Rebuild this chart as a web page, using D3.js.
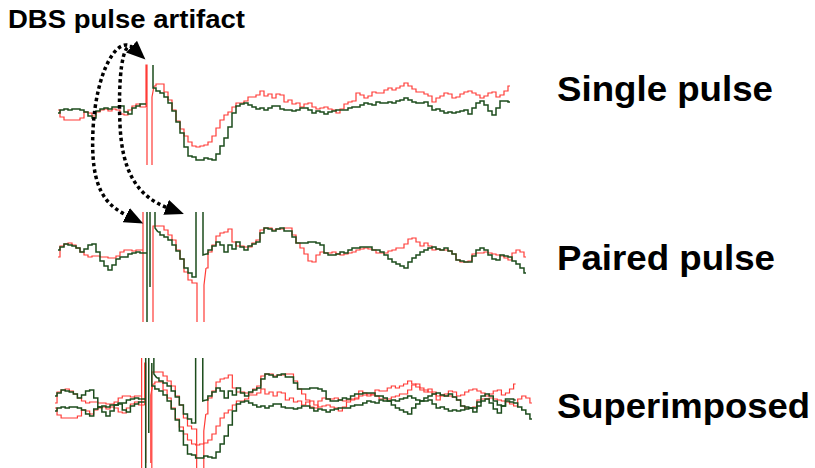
<!DOCTYPE html>
<html>
<head>
<meta charset="utf-8">
<script src="https://cdn.jsdelivr.net/npm/d3@7"></script>
<style>
  html, body { margin: 0; padding: 0; background: #fff; }
  svg { display: block; }
</style>
</head>
<body>
<svg id="chart" width="815" height="468"></svg>
<script>
// Evoked responses to DBS: one sample per ms, first sample at t = -22 ms, pulse at t = 0.
const T_START = -22;

// Single pulse, two recordings (µV, positive up; null = blanked by the artifact)
const singleRed = [
  2, -5, -8, -8, -8, -8, -6, 0, -1, -4, 0, 2, 3, 1, 3, 2, -2, -3, 2, 6, 8, 5,
  5, null,
  26, 28, 28, 20, 12, 2, -9, -17, -24, -30, -34, -35, -34, -33, -30, -24, -16, -8, -3, 0,
  5, 9, 9, 11, 15, 15, 17, 21, 16, 18, 14, 18, 17, 10, 12, 8, 9, 5, 8, 9,
  5, 3, 4, 5, 3, 2, -1, 3, 8, 10, 11, 19, 17, 14, 16, 20, 19, 19, 22, 24,
  22, 24, 26, 29, 26, 23, 20, 20, 18, 16, 10, 14, 16, 19, 18, 14, 15, 18, 20, 21,
  19, 17, 14, 16, 19, 20, 15, 17, 21, 26
];
const singleGreen = [
  -1, 2, 3, 2, 3, 3, 2, 0, -4, -6, 1, 3, 4, 3, 5, 5, 6, 0, -2, 4, 6, 8,
  8, null,
  24, 21, 19, 15, 9, 1, -10, -21, -35, -44, -45, -48, -48, -46, -47, -48, -42, -34, -26, -15,
  -1, 6, 8, 9, 7, 5, 3, 4, 2, 4, 6, 6, 3, 2, 2, 1, 2, 4, 4, 2,
  -1, 1, 0, -2, 0, 1, 2, 2, 2, 4, 5, 5, 7, 9, 8, 7, 10, 9, 9, 10,
  9, 11, 12, 14, 12, 10, 9, 9, 10, 6, 2, 3, 1, -1, 0, -1, 0, 1, 2, -2,
  4, 9, 11, 7, 1, -3, 4, 11, 11, 10
];

// Paired pulse, two recordings
const pairedRed = [
  -7, 4, 6, 7, 5, 2, -2, -5, -7, -6, -6, -7, -7, -8, -8, -6, -2, 0, 0, -1, 0, 0,
  null, null, null,
  24, 24, 20, 15, 10, 0, -9, -22, -30, -33,
  null, null,
  -18, -2, 5, 14, 17, 18, 21, 8, 4, 4, 3, 3, 7, 10, 20, 22, 22, 20, 21, 21,
  22, 22, 15, 7, 2, -4, -11, -12, -5, -2, -3, -3, -2, -4, -5, -4, -3, -2, 0, 1,
  2, 1, 0, -3, -3, -3, -1, 0, 2, 2, 6, 11, 12, 8, 4, 7, 4, 0, 1, 0,
  0, -1, -4, -10, -12, -12, -11, -4, -3, -3, -2, -3, -4, -5, -6, -8, -10, -3, 0, -2, -7
];
const pairedGreen = [
  0, 3, 6, 5, 4, 2, -2, 1, 5, 6, -2, -11, -16, -20, -15, -9, -7, -7, -4, -3, -2, -3,
  null, null, null,
  18, 15, 13, 10, 5, -1, -9, -18, -23, -27,
  null, null,
  -4, 0, 4, 8, 5, -2, 5, 1, 8, 3, 0, 4, 6, 8, 17, 22, 21, 19, 21, 22,
  19, 19, 13, 7, 7, 7, 8, 8, 7, 5, -3, -5, -5, -4, -2, -3, 0, 2, 2, 3,
  3, 3, 0, 0, -2, -5, -9, -12, -14, -16, -18, -12, -8, -5, -2, 0, 2, 3, 1, 0,
  2, -1, -4, -10, -11, -12, -12, -6, 0, 2, 0, -5, -9, -10, -5, -6, -7, -11, -14, -18, -23
];

// Stimulation artifacts as [t (ms), µV] polylines; they run past the amplifier range
const singleRedArtifact = [
  [[0, 5], [0, 47], [0.25, 47], [0.25, -53]],
  [[1.5, -53], [1.5, 15], [2, 26]]
];
const singleGreenArtifact = [
  [[1.75, 47], [1.75, 24], [2, 24]]
];
const pairedRedArtifact = [
  [[-1, 0], [-0.75, 0], [-0.75, 38], [-0.75, -72]],
  [[1.75, -72], [1.75, 24], [3, 24]],
  [[12, -33], [12.75, -33], [12.75, -72]],
  [[14.5, -72], [14.5, -35], [15, -18]]
];
const pairedGreenArtifact = [
  [[-1, -3], [0.25, -3], [0.25, 38], [0.25, -72]],
  [[1, 38], [1, -37]],
  [[2.25, 38], [2.25, 22], [3, 18]],
  [[12, -27], [12.5, -27], [12.5, 38]],
  [[14.25, 38], [14.25, -5], [15, -4]]
];

const panelLabels = ["Single pulse", "Paired pulse", "Superimposed"];
const artifactLabel = "DBS pulse artifact";

const RED = "#ff3b36";
const GREEN = "#1c4c1c";

const svg = d3.select("#chart");

// Time and amplitude scales for each row
const xRow = d3.scaleLinear().domain([-22, 95.5]).range([58, 528]);
const xSup = d3.scaleLinear().domain([-22, 95.5]).range([55, 534]);
const ySingle = d3.scaleLinear().domain([-53, 47]).range([165, 65]);
const yPaired = d3.scaleLinear().domain([-72, 38]).range([322, 212]);
const ySupSingle = d3.scaleLinear().domain([-53, 47]).range([463, 363]);
const ySupPaired = d3.scaleLinear().domain([-72, 38]).range([468, 358]);

// Sampled trace drawn as a sample-and-hold staircase, plus its artifact spikes
function drawTrace(g, values, artifact, x, y, color, width) {
  const pts = values.map((v, i) => ({ t: T_START + i, v }));
  const trace = d3.line()
    .defined(d => d.v !== null)
    .x(d => x(d.t))
    .y(d => y(d.v))
    .curve(d3.curveStep);
  g.append("path")
    .attr("d", trace(pts))
    .attr("fill", "none")
    .attr("stroke", color)
    .attr("stroke-width", width)
    .attr("stroke-linejoin", "miter");
  const spike = d3.line().x(d => x(d[0])).y(d => y(d[1]));
  g.selectAll(null).data(artifact).join("path")
    .attr("d", spike)
    .attr("fill", "none")
    .attr("stroke", color)
    .attr("stroke-width", width);
}

const gSingle = svg.append("g");
drawTrace(gSingle, singleRed, singleRedArtifact, xRow, ySingle, RED, 1.2);
drawTrace(gSingle, singleGreen, singleGreenArtifact, xRow, ySingle, GREEN, 1.5);

const gPaired = svg.append("g");
drawTrace(gPaired, pairedRed, pairedRedArtifact, xRow, yPaired, RED, 1.2);
drawTrace(gPaired, pairedGreen, pairedGreenArtifact, xRow, yPaired, GREEN, 1.5);

const gSup = svg.append("g");
drawTrace(gSup, singleRed, singleRedArtifact, xSup, ySupSingle, RED, 1.2);
drawTrace(gSup, pairedRed, pairedRedArtifact, xSup, ySupPaired, RED, 1.2);
drawTrace(gSup, singleGreen, singleGreenArtifact, xSup, ySupSingle, GREEN, 1.5);
drawTrace(gSup, pairedGreen, pairedGreenArtifact, xSup, ySupPaired, GREEN, 1.5);

// Row labels (slightly wide bold face)
const labelY = [ySingle(0) - 11, yPaired(0) + 20, ySupPaired(0) + 22];
const labelWidth = [216, 218, 253];
svg.selectAll("text.row").data(panelLabels).join("text")
  .attr("class", "row")
  .attr("x", 557)
  .attr("y", (d, i) => labelY[i])
  .attr("font-family", "'Liberation Sans', Arial, sans-serif")
  .attr("font-weight", "bold")
  .attr("font-size", 35)
  .attr("textLength", (d, i) => labelWidth[i])
  .attr("lengthAdjust", "spacingAndGlyphs")
  .attr("fill", "#000")
  .text(d => d);

// Annotation: label with dotted arrows from the single pulse artifact to the paired ones
svg.append("text")
  .attr("x", 8)
  .attr("y", 28)
  .attr("font-family", "'Liberation Sans', Arial, sans-serif")
  .attr("font-weight", "bold")
  .attr("font-size", 25)
  .attr("textLength", 237)
  .attr("lengthAdjust", "spacingAndGlyphs")
  .attr("fill", "#000")
  .text(artifactLabel);

const defs = svg.append("defs");
defs.append("marker")
  .attr("id", "head")
  .attr("markerUnits", "userSpaceOnUse")
  .attr("markerWidth", 20).attr("markerHeight", 16)
  .attr("refX", 2).attr("refY", 8)
  .attr("orient", "auto-start-reverse")
  .append("path")
  .attr("d", "M0,0 L19,8 L0,16 Z")
  .attr("fill", "#000");

const junction = [xRow(0) - 13, ySingle(0) - 64];      // meeting point under the label
const leftEnd = [xRow(-4.5), yPaired(34)];
const rightEnd = [xRow(5.5), yPaired(42)];

const leftPath = d3.path();
leftPath.moveTo(junction[0], junction[1]);
leftPath.bezierCurveTo(junction[0] - 15, junction[1] - 14, junction[0] - 37, junction[1] + 22, junction[0] - 40, junction[1] + 82);
leftPath.bezierCurveTo(junction[0] - 43, junction[1] + 142, leftEnd[0] - 22, leftEnd[1] - 11, leftEnd[0], leftEnd[1]);

const rightPath = d3.path();
rightPath.moveTo(junction[0], junction[1]);
rightPath.bezierCurveTo(junction[0] - 11, junction[1] - 10, junction[0] - 15, junction[1] + 32, junction[0] - 13, junction[1] + 77);
rightPath.bezierCurveTo(junction[0] - 11, junction[1] + 122, rightEnd[0] - 32, rightEnd[1] - 12, rightEnd[0], rightEnd[1]);

[leftPath, rightPath].forEach((p, i) => {
  svg.append("path")
    .attr("d", p.toString())
    .attr("fill", "none")
    .attr("stroke", "#000")
    .attr("stroke-width", 3.5)
    .attr("stroke-dasharray", "3.5 3")
    .attr("marker-end", "url(#head)")
    .attr("marker-start", i === 0 ? "url(#head)" : null);
});
</script>
</body>
</html>
